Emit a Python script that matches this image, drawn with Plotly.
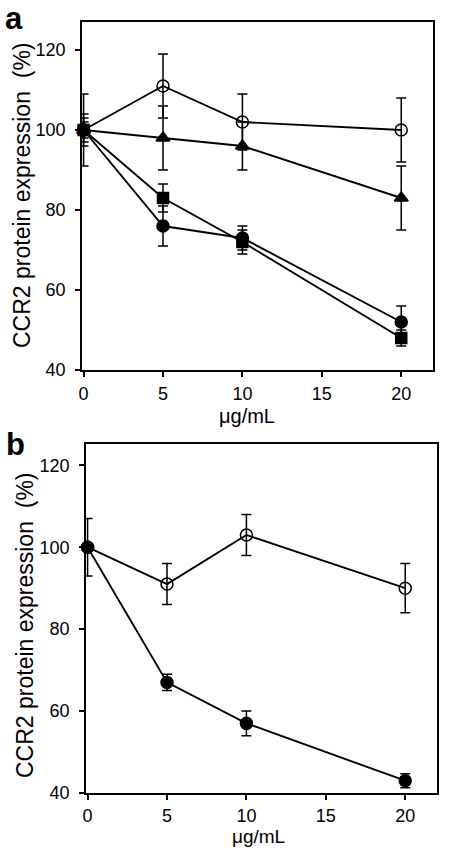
import plotly.graph_objects as go

W, H = 456, 856

# ---------------- data ----------------
doses = [0, 5, 10, 20]

# panel a
a_open_circle = [100, 111, 102, 100]
a_open_circle_err = [9, 8, 7, 8]
a_triangle = [100, 98, 96, 83]
a_triangle_err = [4, 8, 6, 8]
a_square = [100, 83, 72, 48]
a_square_err = [3, 3.5, 3, 2]
a_circle = [100, 76, 73, 52]
a_circle_err = [2, 5, 3, 4]

# panel b
b_open_circle = [100, 91, 103, 90]
b_open_circle_err = [7, 5, 5, 6]
b_circle = [100, 67, 57, 43]
b_circle_err = [0.5, 2, 3, 1.7]

x_ticks = [0, 5, 10, 15, 20]
y_ticks = [40, 60, 80, 100, 120]
y_title = "CCR2 protein expression  (%)"
x_title = "μg/mL"

FONT = "Arial, Liberation Sans, Helvetica, sans-serif"


def px(x):
    return x / W


def py(y):
    return 1 - y / H


fig = go.Figure()


def add_series(y, err, symbol, size, xa, ya):
    fig.add_trace(go.Scatter(
        x=doses, y=y, mode="lines+markers",
        line=dict(color="black", width=1.9),
        marker=dict(symbol=symbol, size=size, color="black",
                    line=dict(color="black", width=1.5)),
        error_y=dict(type="data", array=err, visible=True,
                     color="black", thickness=1.5, width=5),
        xaxis=xa, yaxis=ya, showlegend=False, cliponaxis=False,
        hoverinfo="skip",
    ))


# panel a
add_series(a_open_circle, a_open_circle_err, "circle-open", 12, "x", "y")
add_series(a_triangle, a_triangle_err, "triangle-up", 12, "x", "y")
add_series(a_square, a_square_err, "square", 11, "x", "y")
add_series(a_circle, a_circle_err, "circle", 12, "x", "y")
# panel b
add_series(b_open_circle, b_open_circle_err, "circle-open", 12, "x2", "y2")
add_series(b_circle, b_circle_err, "circle", 12, "x2", "y2")

axis_common = dict(
    showline=True, mirror=True, linecolor="black", linewidth=1.5,
    ticks="outside", ticklen=5, tickwidth=1.5, tickcolor="black",
    showgrid=False, zeroline=False,
    tickfont=dict(family=FONT, size=18, color="black"),
    automargin=False,
)

fig.update_layout(
    width=W, height=H,
    margin=dict(l=0, r=0, t=0, b=0),
    paper_bgcolor="white", plot_bgcolor="white",
    xaxis=dict(domain=[px(82), px(433)], range=[-0.1, 22], anchor="y",
               tickvals=x_ticks, ticklabelstandoff=2, **axis_common),
    yaxis=dict(domain=[py(370), py(22)], range=[40, 127], anchor="x",
               tickvals=y_ticks, ticklabelstandoff=6, **axis_common),
    xaxis2=dict(domain=[px(86), px(437)], range=[-0.1, 22], anchor="y2",
                tickvals=x_ticks, ticklabelstandoff=1, **axis_common),
    yaxis2=dict(domain=[py(793), py(444)], range=[40, 125.2], anchor="x2",
                tickvals=y_ticks, ticklabelstandoff=6, **axis_common),
)

ann = []
# axis titles
ann.append(dict(x=px(22), y=py(195), text=y_title, textangle=-90,
                font=dict(family=FONT, size=23, color="black")))
ann.append(dict(x=px(247), y=py(416), text=x_title,
                font=dict(family=FONT, size=20, color="black")))
ann.append(dict(x=px(25), y=py(625), text=y_title, textangle=-90,
                font=dict(family=FONT, size=23, color="black")))
ann.append(dict(x=px(258), y=py(836), text=x_title,
                font=dict(family=FONT, size=19, color="black")))
# panel letters
ann.append(dict(x=px(14), y=py(19), text="<b>a</b>",
                font=dict(family=FONT, size=31, color="black")))
ann.append(dict(x=px(15), y=py(444), text="<b>b</b>",
                font=dict(family=FONT, size=31, color="black")))

for a in ann:
    a.update(xref="paper", yref="paper", showarrow=False,
             xanchor="center", yanchor="middle")
fig.update_layout(annotations=ann)

fig.write_html(
    "out.html",
    config={"displayModeBar": False},
    post_script="document.body.style.margin='0';"
                "document.documentElement.style.overflow='hidden';",
)
